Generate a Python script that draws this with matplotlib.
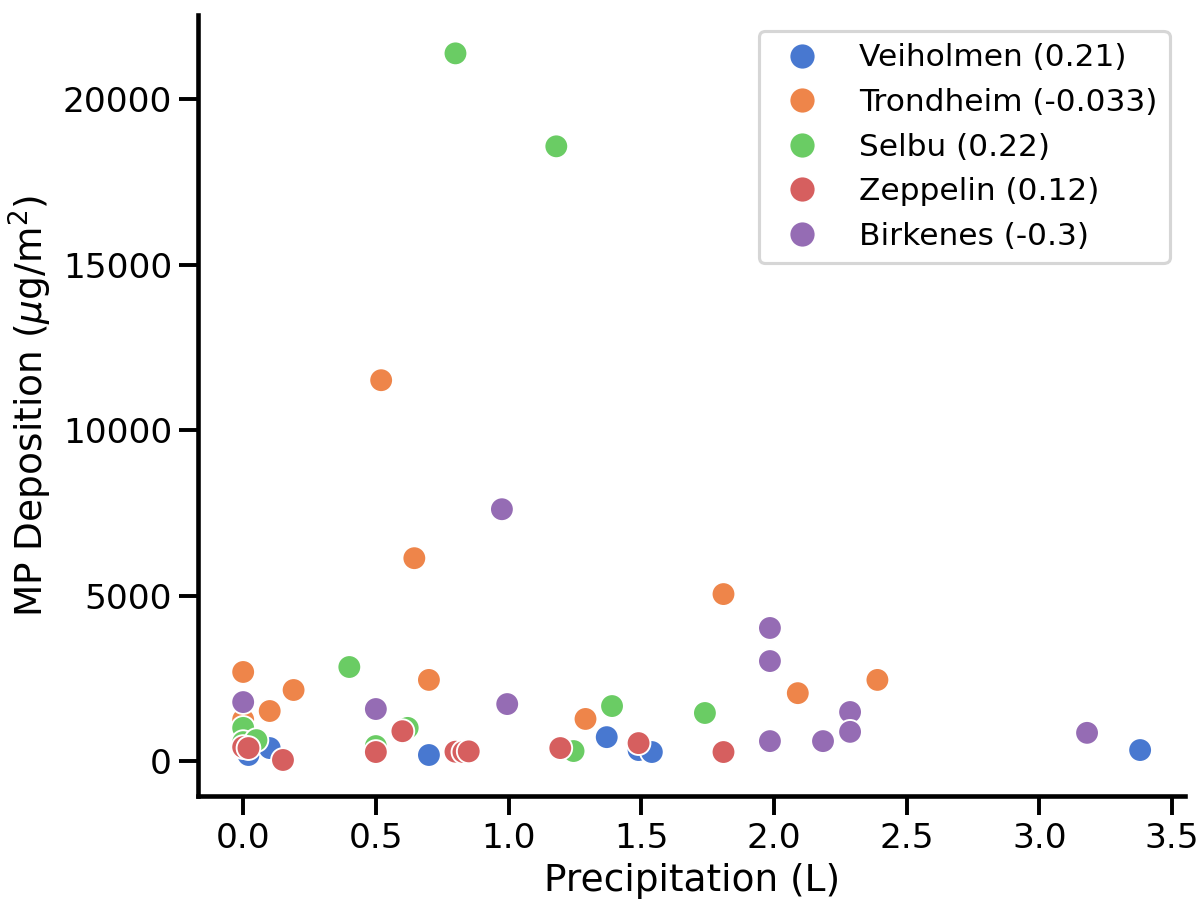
import matplotlib
matplotlib.use("Agg")
import matplotlib.pyplot as plt
import seaborn as sns
import pandas as pd

sns.set_theme(style="ticks", context="talk")
plt.rcParams.update({
    "text.color": "black", "axes.labelcolor": "black",
    "xtick.color": "black", "ytick.color": "black",
    "axes.edgecolor": "black",
})

# precipitation (L) and MP deposition (ug/m2) per site
veiholmen_x = [0.02, 0.10, 0.70, 1.37, 1.49, 1.54, 3.38]
veiholmen_y = [180, 390, 180, 720, 330, 270, 330]

trondheim_x = [0.00, 0.00, 0.10, 0.19, 0.52, 0.645, 0.70, 1.29, 1.81, 2.09, 2.39]
trondheim_y = [2690, 1250, 1510, 2145, 11510, 6130, 2450, 1270, 5045, 2050, 2450]

selbu_x = [0.80, 1.18, 0.40, 0.00, 0.00, 0.05, 0.50, 0.62, 1.245, 1.39, 1.74]
selbu_y = [21390, 18580, 2840, 1000, 570, 630, 450, 1000, 300, 1660, 1450]

zeppelin_x = [0.00, 0.02, 0.15, 0.50, 0.60, 0.80, 0.83, 0.85, 1.195, 1.49, 1.81]
zeppelin_y = [420, 390, 30, 270, 900, 280, 270, 290, 390, 540, 270]

birkenes_x = [0.00, 0.50, 0.975, 0.995, 1.985, 1.985, 1.985, 2.185, 2.287, 2.287, 3.18]
birkenes_y = [1780, 1570, 7610, 1720, 4020, 3020, 600, 600, 1480, 880, 850]

sites = ["Veiholmen (0.21)", "Trondheim (-0.033)", "Selbu (0.22)",
         "Zeppelin (0.12)", "Birkenes (-0.3)"]
xs = [veiholmen_x, trondheim_x, selbu_x, zeppelin_x, birkenes_x]
ys = [veiholmen_y, trondheim_y, selbu_y, zeppelin_y, birkenes_y]

rows = []
for name, x, y in zip(sites, xs, ys):
    for a, b in zip(x, y):
        rows.append({"Precipitation": a, "Deposition": b, "Site": name})
df = pd.DataFrame(rows)

fig = plt.figure(figsize=(1196 / 150, 901 / 150), dpi=150)
ax = fig.add_axes([0.1656, 0.1165, 0.8254, 0.8665])

sns.scatterplot(data=df, x="Precipitation", y="Deposition", hue="Site",
                palette="muted", hue_order=sites, ax=ax, s=130)

ax.set_xlim(-0.17, 3.55)
ax.set_ylim(-1060, 22540)
ax.set_xlabel("Precipitation (L)")
ax.set_ylabel("MP Deposition ($\\mu$g/m$^2$)")
for sp in ["left", "bottom"]:
    ax.spines[sp].set_linewidth(2.2)
sns.despine(ax=ax)

leg = ax.legend(loc="upper right", frameon=True, fontsize=15, markerscale=1.1)
leg.set_title(None)

fig.savefig("out.png", dpi=150)
